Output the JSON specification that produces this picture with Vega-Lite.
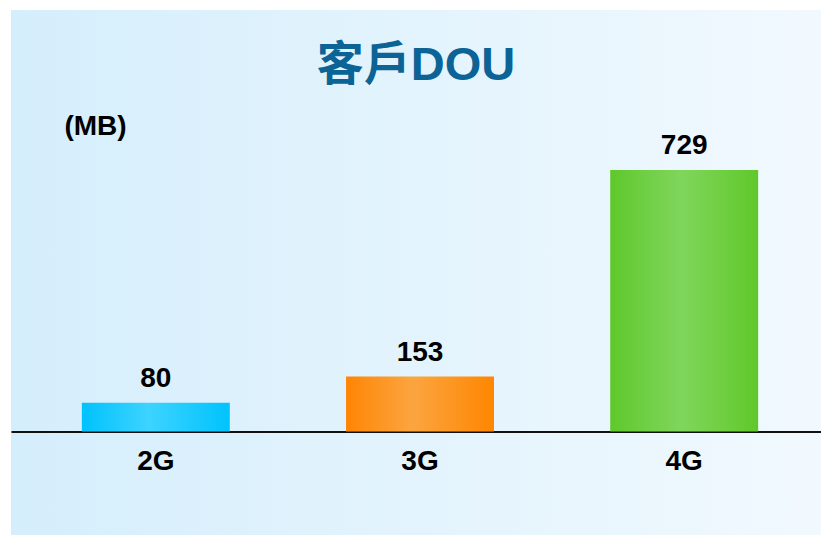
{
  "$schema": "https://vega.github.io/schema/vega-lite/v6.json",
  "width": 810,
  "height": 525,
  "autosize": {"type": "none"},
  "padding": {"top": 10, "left": 11, "right": 0, "bottom": 0},
  "background": "#ffffff",
  "config": {
    "view": {
      "stroke": null,
      "fill": {"gradient": "linear", "x1": 0, "y1": 0, "x2": 1, "y2": 0,
        "stops": [{"offset": 0, "color": "#d5eefc"}, {"offset": 1, "color": "#f1f9fe"}]}
    },
    "font": "Liberation Sans, Noto Sans CJK TC, sans-serif"
  },
  "title": {
    "text": "客戶DOU",
    "font": "Liberation Sans, Noto Sans CJK TC, sans-serif",
    "fontSize": 47,
    "fontWeight": "bold",
    "color": "#0b6396",
    "anchor": "middle",
    "frame": "group",
    "offset": -80
  },
  "data": {
    "values": [
      {"network": "2G", "dou": 80},
      {"network": "3G", "dou": 153},
      {"network": "4G", "dou": 729}
    ]
  },
  "encoding": {
    "x": {
      "field": "network",
      "type": "nominal",
      "sort": null,
      "scale": {"paddingInner": 0.44, "paddingOuter": 0.253, "align": 0.53},
      "axis": {
        "title": null,
        "labelAngle": 0,
        "offset": -103.5,
        "domainColor": "#111111",
        "domainWidth": 2,
        "ticks": false,
        "tickSize": 0,
        "labelPadding": 16,
        "labelFontSize": 28,
        "labelFontWeight": "bold",
        "labelColor": "#000000",
        "labelFont": "Liberation Sans"
      }
    },
    "y": {
      "field": "dou",
      "type": "quantitative",
      "scale": {"domain": [-288.5, 1175], "nice": false, "zero": false},
      "axis": {
        "title": "(MB)",
        "titleAngle": 0,
        "titleAlign": "center",
        "titleBaseline": "alphabetic",
        "titleX": 84,
        "titleY": 124,
        "titleFontSize": 28,
        "titleFontWeight": "bold",
        "titleColor": "#000000",
        "titleFont": "Liberation Sans",
        "domain": false,
        "ticks": false,
        "labels": false,
        "grid": false
      }
    }
  },
  "layer": [
    {
      "transform": [{"filter": "datum.network === '2G'"}],
      "mark": {"type": "bar", "fill": {"gradient": "linear", "x1": 0, "y1": 0, "x2": 1, "y2": 0,
        "stops": [{"offset": 0, "color": "#00c2fd"}, {"offset": 0.45, "color": "#3dd3ff"}, {"offset": 1, "color": "#00c3fd"}]}},
      "encoding": {"y2": {"datum": 0}}
    },
    {
      "transform": [{"filter": "datum.network === '3G'"}],
      "mark": {"type": "bar", "fill": {"gradient": "linear", "x1": 0, "y1": 0, "x2": 1, "y2": 0,
        "stops": [{"offset": 0, "color": "#ff8504"}, {"offset": 0.45, "color": "#fba540"}, {"offset": 1, "color": "#ff8602"}]}},
      "encoding": {"y2": {"datum": 0}}
    },
    {
      "transform": [{"filter": "datum.network === '4G'"}],
      "mark": {"type": "bar", "fill": {"gradient": "linear", "x1": 0, "y1": 0, "x2": 1, "y2": 0,
        "stops": [{"offset": 0, "color": "#5fc82c"}, {"offset": 0.48, "color": "#80d65c"}, {"offset": 1, "color": "#60c82b"}]}},
      "encoding": {"y2": {"datum": 0}}
    },
    {
      "mark": {"type": "text", "baseline": "alphabetic", "dy": -16, "fontSize": 28, "fontWeight": "bold", "color": "#000000", "font": "Liberation Sans"},
      "encoding": {"text": {"field": "dou", "type": "quantitative"}}
    }
  ]
}
